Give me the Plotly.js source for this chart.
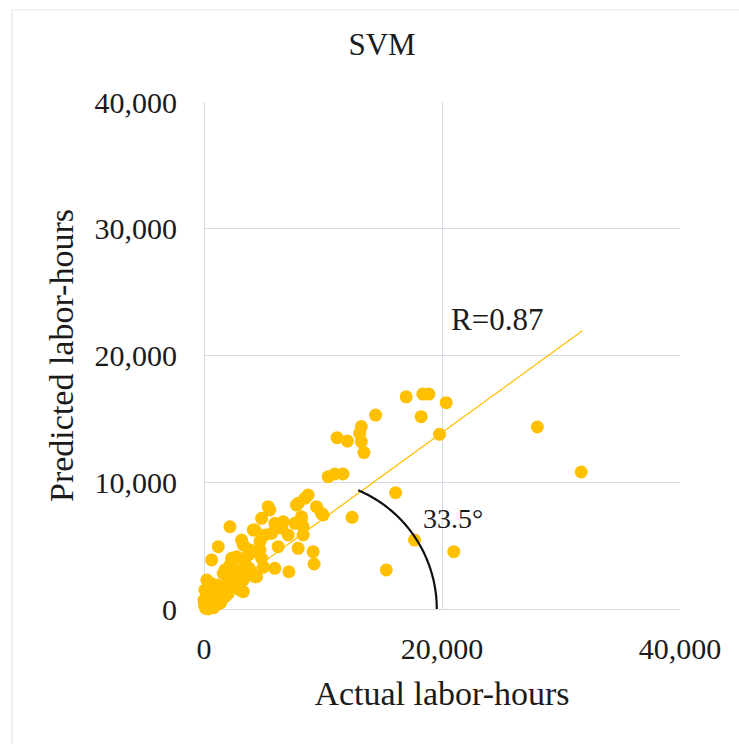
<!DOCTYPE html>
<html>
<head>
<meta charset="utf-8">
<script src="https://cdn.plot.ly/plotly-3.0.1.min.js"></script>
<style>html,body{margin:0;padding:0;background:#fff;}#chart{width:739px;height:744px;}</style>
</head>
<body>
<div id="chart"></div>
<script>
// ---- data ----
const actualX = [
  16990, 18390, 18900, 20350, 18250, 14420, 13220, 13080, 13220, 13440,
  11180, 12050, 19790, 10430, 10990, 11680, 16100, 28010, 31700, 12440,
  17690, 20990, 15320,
  8750, 8470, 7910, 7770, 9450, 10000, 9870, 5390, 5530, 4840,
  2180, 4140, 4280, 5950, 6230, 6510, 6650, 7630, 8190, 8190,
  8330, 7070, 8330, 5680, 5120, 6230, 7910, 9170, 9250, 5950,
  7130, 3160, 3300, 1200, 640, 2320, 3720, 4700, 4840, 4700,
  3860, 4280, 3300, 2740, 1760, 230, 2040, 920, 2040, 1480,
  920, 3440, 2600, 1620, 3300, 3020, 4420, 1340, 1900, 2460,
  2180, 3860, 2740,
  80, 0, 100, 350, 200, 500, 700, 300, 1000, 1200,
  600, 150, 400, 800, 1600, 2500, 2800, 3800, 4000, 3500,
  5000, 50, 250, 1100, 1400, 1800, 2200, 650
];
const predictedY = [
  16740, 16960, 16960, 16280, 15170, 15300, 14390, 13860, 13200, 12340,
  13520, 13250, 13780, 10440, 10650, 10650, 9180, 14360, 10810, 7230,
  5440, 4520, 3080,
  8990, 8730, 8340, 8200, 8070, 7420, 7550, 8070, 7810, 7150,
  6490, 6230, 6230, 6760, 6490, 6370, 6890, 6760, 7280, 7020,
  6490, 5840, 5840, 5970, 5840, 4920, 4790, 4520, 3550, 3210,
  2940, 5440, 5050, 4920, 3870, 4000, 4260, 4650, 4000, 5310,
  4390, 2550, 1370, 3080, 3080, 2290, 2290, 1500, 1240, 710,
  450, 3600, 1760, 2810, 2290, 1500, 2550, 1240, 1760, 4000,
  3470, 4650, 4130,
  1500, 700, 200, 0, 400, 900, 300, 1100, 800, 400,
  1300, 50, 600, 100, 1200, 2000, 2600, 3200, 2900, 2700,
  3300, 300, 150, 1900, 500, 1000, 2600, 2000
];
const trendX = [0, 31800];
const trendY = [300, 21950];
const xTicks = [0, 20000, 40000];
const yTicks = [0, 10000, 20000, 30000, 40000];
const chartTitle = "SVM";
const xTitle = "Actual labor-hours";
const yTitle = "Predicted labor-hours";
const rLabel = "R=0.87";
const angleLabel = "33.5°";

// ---- layout geometry ----
const W = 739, H = 744;
const M = {l: 204, r: 59, t: 102, b: 135};
const plotW = W - M.l - M.r, plotH = H - M.t - M.b;
const xMax = 40000, yMax = 40000;
const xs = plotW / xMax, ys = plotH / yMax;

// angle arc (decoration): centre on x-axis, radius in pixels
const arcCenterX = 8720, arcRadiusPx = 129, arcEndDeg = 67;
let arcPath = '';
for (let i = 0; i <= 60; i++) {
  const t = (arcEndDeg * i / 60) * Math.PI / 180;
  const x = arcCenterX + arcRadiusPx * Math.cos(t) / xs;
  const y = arcRadiusPx * Math.sin(t) / ys;
  arcPath += (i === 0 ? 'M' : 'L') + x.toFixed(1) + ',' + y.toFixed(1);
}

const FONT = '"Liberation Serif", "Times New Roman", serif';
const TXT = '#1b1b1b';
const GRID = '#d6dce6';

const traces = [
  {
    x: trendX, y: trendY, type: 'scatter', mode: 'lines',
    line: {color: '#FFC000', width: 1.3}, hoverinfo: 'skip', showlegend: false
  },
  {
    x: actualX, y: predictedY, type: 'scatter', mode: 'markers',
    marker: {color: '#FFC000', size: 13, line: {width: 0}},
    cliponaxis: false, showlegend: false
  }
];

const layout = {
  width: W, height: H,
  margin: M,
  paper_bgcolor: '#ffffff', plot_bgcolor: '#ffffff',
  font: {family: FONT, color: TXT},
  showlegend: false,
  title: {
    text: chartTitle, font: {family: FONT, size: 31, color: TXT},
    x: 382 / W, xref: 'container', xanchor: 'center',
    y: 1 - 44 / H, yref: 'container', yanchor: 'middle'
  },
  xaxis: {
    range: [0, xMax], tickvals: xTicks, tickformat: ',d',
    showgrid: true, gridcolor: GRID, gridwidth: 1,
    zeroline: true, zerolinecolor: GRID, zerolinewidth: 1,
    showline: false, ticks: '', ticklabelstandoff: 19,
    tickfont: {family: FONT, size: 30, color: TXT},
    title: {text: xTitle, font: {family: FONT, size: 34, color: TXT}, standoff: 17},
    automargin: false, fixedrange: true
  },
  yaxis: {
    range: [0, yMax], tickvals: yTicks, tickformat: ',d',
    showgrid: true, gridcolor: GRID, gridwidth: 1,
    zeroline: true, zerolinecolor: GRID, zerolinewidth: 1,
    showline: false, ticks: '', ticklabelstandoff: 26,
    tickfont: {family: FONT, size: 30, color: TXT},
    title: {text: yTitle, font: {family: FONT, size: 34, color: TXT}, standoff: 10},
    automargin: false, fixedrange: true
  },
  shapes: [
    {type: 'path', xref: 'x', yref: 'y', path: arcPath,
     line: {color: '#111111', width: 2.2}, layer: 'above'},
    {type: 'path', xref: 'paper', yref: 'paper',
     path: 'M-0.4034,-0.3 L-0.4034,1.1815 L1.2,1.1815',
     line: {color: '#e2e5ea', width: 1.2}}
  ],
  annotations: [
    {text: rLabel, x: 497, y: 319, xref: 'paper', yref: 'paper', showarrow: false,
     font: {family: FONT, size: 31, color: TXT}},
    {text: angleLabel, x: 453, y: 518, xref: 'paper', yref: 'paper', showarrow: false,
     font: {family: FONT, size: 28, color: TXT}}
  ]
};
// convert annotation pixel positions to paper coords
layout.annotations.forEach(a => {
  a.x = (a.x - M.l) / plotW;
  a.y = (H - M.b - a.y) / plotH;
  a.xanchor = 'center'; a.yanchor = 'middle';
});

Plotly.newPlot('chart', traces, layout, {displayModeBar: false, staticPlot: true});
</script>
</body>
</html>
